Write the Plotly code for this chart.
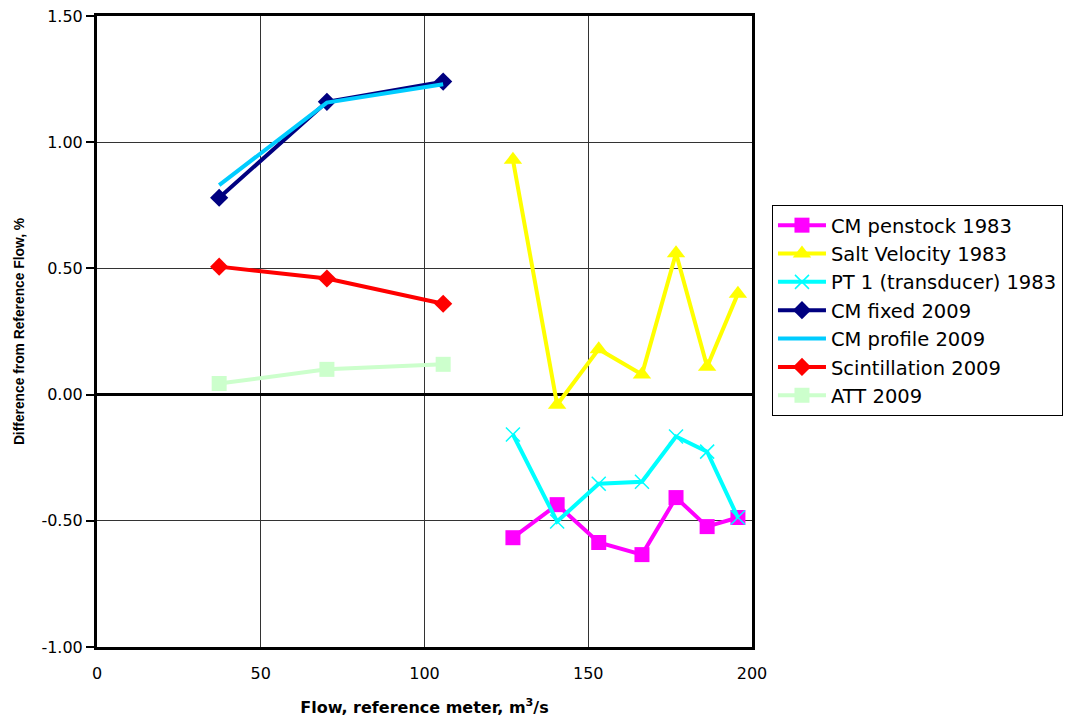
import plotly.graph_objects as go

# Data
x_1983 = [127.0, 140.5, 153.2, 166.4, 176.8, 186.3, 195.7]
cm_penstock_1983 = [-0.567, -0.436, -0.586, -0.634, -0.408, -0.523, -0.487]
salt_velocity_1983 = [0.93, -0.04, 0.18, 0.08, 0.56, 0.11, 0.40]
pt1_1983 = [-0.158, -0.503, -0.353, -0.345, -0.166, -0.226, -0.487]

x_2009 = [37.3, 70.2, 105.7]
cm_fixed_2009 = [0.78, 1.16, 1.24]
cm_profile_2009 = [0.83, 1.157, 1.23]
scint_2009 = [0.507, 0.46, 0.36]
att_2009 = [0.044, 0.10, 0.12]

x_ticks = [0, 50, 100, 150, 200]
y_ticks = [-1.0, -0.5, 0.0, 0.5, 1.0, 1.5]
y_tick_labels = ["-1.00", "-0.50", "0.00", "0.50", "1.00", "1.50"]

fig = go.Figure()

def add(name, x, y, color, symbol=None, size=14, lw=4):
    mode = "lines+markers" if symbol else "lines"
    marker = dict(symbol=symbol, size=size, color=color,
                  line=dict(width=1.5 if symbol and "x" in symbol else 0, color=color)) if symbol else None
    fig.add_trace(go.Scatter(x=x, y=y, name=name, mode=mode,
                             line=dict(color=color, width=lw),
                             marker=marker))

add("CM penstock 1983", x_1983, cm_penstock_1983, "#FF00FF", "square", 15)
add("Salt Velocity 1983", x_1983, salt_velocity_1983, "#FFFF00", "triangle-up", 16)
add("PT 1 (transducer) 1983", x_1983, pt1_1983, "#00FFFF", "x-thin", 14)
add("CM fixed 2009", x_2009, cm_fixed_2009, "#000080", "diamond", 14)
add("CM profile 2009", x_2009, cm_profile_2009, "#00CCFF", None)
add("Scintillation 2009", x_2009, scint_2009, "#FF0000", "diamond", 14)
add("ATT 2009", x_2009, att_2009, "#CCFFCC", "square", 15)

FONT = "DejaVu Sans, Liberation Sans, Arial, sans-serif"

fig.update_layout(
    width=1077, height=724,
    margin=dict(l=89, r=333, t=8, b=85),
    paper_bgcolor="white", plot_bgcolor="white",
    font=dict(family=FONT, size=16, color="black"),
    legend=dict(x=1.0305, y=0.7005, xanchor="left", yanchor="top",
                bordercolor="black", borderwidth=1,
                font=dict(size=19.5, family=FONT), tracegroupgap=0, itemwidth=48),
    xaxis=dict(range=[0, 200], tickvals=x_ticks, showgrid=True,
               gridcolor="#333333", gridwidth=1, automargin=False,
               showline=True, linecolor="black", linewidth=3, mirror=True,
               zeroline=False, ticks="", ticklabelstandoff=10,
               ticklabeloverflow="allow",
               tickfont=dict(size=16, family=FONT),
               title=dict(text="<b>Flow, reference meter, m<sup>3</sup>/s</b>",
                          font=dict(size=16, family=FONT), standoff=20)),
    yaxis=dict(range=[-1.0, 1.5], tickvals=y_ticks, ticktext=y_tick_labels,
               showgrid=True, gridcolor="#333333", gridwidth=1, automargin=False,
               showline=True, linecolor="black", linewidth=3, mirror=True,
               zeroline=True, zerolinecolor="black", zerolinewidth=3,
               ticks="outside", ticklen=8, tickwidth=2, tickcolor="black",
               ticklabeloverflow="allow",
               tickfont=dict(size=16, family=FONT),
               title=dict(text="<b>Difference from Reference Flow, %</b>",
                          font=dict(size=13.8, family="Liberation Sans, Arial, sans-serif"),
                          standoff=14)),
)

fig.write_html("out.html")
